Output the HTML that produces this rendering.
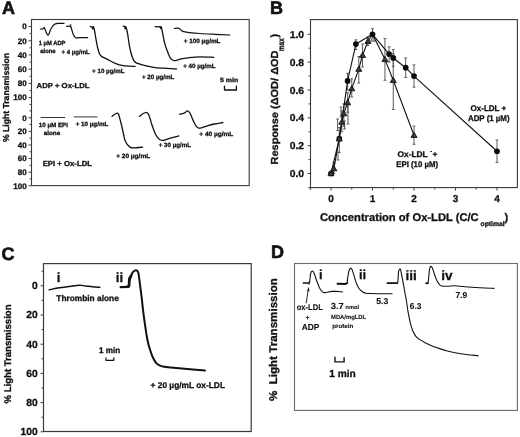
<!DOCTYPE html>
<html><head><meta charset="utf-8"><style>
html,body{margin:0;padding:0;background:#fff;}
body{width:520px;height:437px;overflow:hidden;}
svg{display:block;will-change:transform;}
text{stroke:#111;stroke-width:0.3px;text-rendering:geometricPrecision;}
svg{font-family:"Liberation Sans", sans-serif;}
</style></head><body>
<svg width="520" height="437" viewBox="0 0 520 437">
<rect width="520" height="437" fill="#fff"/>
<text x="2" y="13.85" font-size="18" font-weight="bold" text-anchor="start" fill="#111" style="stroke-width:0.6px">A</text>
<rect x="31.5" y="19.5" width="217.7" height="166.1" fill="none" stroke="#3a3a3a" stroke-width="1.1"/>
<line x1="28.5" y1="26.5" x2="31.5" y2="26.5" stroke="#333" stroke-width="0.9"/>
<text x="26.6" y="29.35" font-size="8" font-weight="bold" text-anchor="end" fill="#111">0</text>
<line x1="29.5" y1="33.61" x2="31.5" y2="33.61" stroke="#333" stroke-width="0.9"/>
<line x1="28.5" y1="40.72" x2="31.5" y2="40.72" stroke="#333" stroke-width="0.9"/>
<text x="26.6" y="43.57" font-size="8" font-weight="bold" text-anchor="end" fill="#111">20</text>
<line x1="29.5" y1="47.83" x2="31.5" y2="47.83" stroke="#333" stroke-width="0.9"/>
<line x1="28.5" y1="54.94" x2="31.5" y2="54.94" stroke="#333" stroke-width="0.9"/>
<text x="26.6" y="57.79" font-size="8" font-weight="bold" text-anchor="end" fill="#111">40</text>
<line x1="29.5" y1="62.05" x2="31.5" y2="62.05" stroke="#333" stroke-width="0.9"/>
<line x1="28.5" y1="69.16" x2="31.5" y2="69.16" stroke="#333" stroke-width="0.9"/>
<text x="26.6" y="72.01" font-size="8" font-weight="bold" text-anchor="end" fill="#111">60</text>
<line x1="29.5" y1="76.27" x2="31.5" y2="76.27" stroke="#333" stroke-width="0.9"/>
<line x1="28.5" y1="83.38" x2="31.5" y2="83.38" stroke="#333" stroke-width="0.9"/>
<text x="26.6" y="86.23" font-size="8" font-weight="bold" text-anchor="end" fill="#111">80</text>
<line x1="29.5" y1="90.49" x2="31.5" y2="90.49" stroke="#333" stroke-width="0.9"/>
<line x1="28.5" y1="97.6" x2="31.5" y2="97.6" stroke="#333" stroke-width="0.9"/>
<text x="26.6" y="100.45" font-size="8" font-weight="bold" text-anchor="end" fill="#111">100</text>
<line x1="29.5" y1="104.5" x2="31.5" y2="104.5" stroke="#333" stroke-width="0.9"/>
<line x1="29.5" y1="110.89" x2="31.5" y2="110.89" stroke="#333" stroke-width="0.9"/>
<line x1="28.5" y1="117.7" x2="31.5" y2="117.7" stroke="#333" stroke-width="0.9"/>
<text x="26.6" y="120.55" font-size="8" font-weight="bold" text-anchor="end" fill="#111">0</text>
<line x1="29.5" y1="124.51" x2="31.5" y2="124.51" stroke="#333" stroke-width="0.9"/>
<line x1="28.5" y1="131.32" x2="31.5" y2="131.32" stroke="#333" stroke-width="0.9"/>
<text x="26.6" y="134.17" font-size="8" font-weight="bold" text-anchor="end" fill="#111">20</text>
<line x1="29.5" y1="138.13" x2="31.5" y2="138.13" stroke="#333" stroke-width="0.9"/>
<line x1="28.5" y1="144.94" x2="31.5" y2="144.94" stroke="#333" stroke-width="0.9"/>
<text x="26.6" y="147.79" font-size="8" font-weight="bold" text-anchor="end" fill="#111">40</text>
<line x1="29.5" y1="151.75" x2="31.5" y2="151.75" stroke="#333" stroke-width="0.9"/>
<line x1="28.5" y1="158.56" x2="31.5" y2="158.56" stroke="#333" stroke-width="0.9"/>
<text x="26.6" y="161.41" font-size="8" font-weight="bold" text-anchor="end" fill="#111">60</text>
<line x1="29.5" y1="165.37" x2="31.5" y2="165.37" stroke="#333" stroke-width="0.9"/>
<line x1="28.5" y1="172.18" x2="31.5" y2="172.18" stroke="#333" stroke-width="0.9"/>
<text x="26.6" y="175.03" font-size="8" font-weight="bold" text-anchor="end" fill="#111">80</text>
<line x1="29.5" y1="178.99" x2="31.5" y2="178.99" stroke="#333" stroke-width="0.9"/>
<line x1="28.5" y1="185.8" x2="31.5" y2="185.8" stroke="#333" stroke-width="0.9"/>
<text x="26.6" y="188.65" font-size="8" font-weight="bold" text-anchor="end" fill="#111">100</text>
<text transform="translate(8.8 97.5) rotate(-90)" x="0" y="0" font-size="8.7" font-weight="bold" text-anchor="middle" fill="#111" textLength="89" lengthAdjust="spacingAndGlyphs">% Light Transmission</text>
<path d="M40.3 29 C40.67 29 41.97 29.13 42.5 29 C43.03 28.87 43.23 28.45 43.5 28.2 C43.77 27.95 43.82 27.23 44.1 27.5 C44.38 27.77 44.75 28.78 45.2 29.8 C45.65 30.82 46.37 32.7 46.8 33.6 C47.23 34.5 47.45 35.1 47.8 35.2 C48.15 35.3 48.45 35.1 48.9 34.2 C49.35 33.3 49.87 31.15 50.5 29.8 C51.13 28.45 51.88 27.08 52.7 26.1 C53.52 25.12 54.42 24.35 55.4 23.9 C56.38 23.45 57.17 23.48 58.6 23.4 C60.03 23.32 63.1 23.4 64 23.4" fill="none" stroke="#111" stroke-width="1.2" stroke-linejoin="round" stroke-linecap="round"/>
<path d="M66.7 26.4 C67.15 26.35 68.75 26.12 69.4 26.1 C70.05 26.08 70.25 25.85 70.6 26.3 C70.95 26.75 71.07 27.48 71.5 28.8 C71.93 30.12 72.65 32.87 73.2 34.2 C73.75 35.53 74.27 36.17 74.8 36.8 C75.33 37.43 75.68 37.85 76.4 38 C77.12 38.15 77.22 37.77 79.1 37.7 C80.98 37.63 86.27 37.62 87.7 37.6" fill="none" stroke="#111" stroke-width="1.2" stroke-linejoin="round" stroke-linecap="round"/>
<line x1="70.7" y1="23.9" x2="70.7" y2="27.2" stroke="#111" stroke-width="0.9"/>
<path d="M90.2 26.6 C90.48 26.65 91.47 26.5 91.9 26.9 C92.33 27.3 92.53 29.05 92.8 29 C93.07 28.95 93.2 26.27 93.5 26.6 C93.8 26.93 94.18 28.9 94.6 31 C95.02 33.1 95.5 36.45 96 39.2 C96.5 41.95 97.03 45.1 97.6 47.5 C98.17 49.9 98.75 52.12 99.4 53.6 C100.05 55.08 100.23 55.48 101.5 56.4 C102.77 57.32 104.72 57.95 107 59.1 C109.28 60.25 112.47 62.22 115.2 63.3 C117.93 64.38 120.08 65.08 123.4 65.6 C126.72 66.12 133.15 66.27 135.1 66.4" fill="none" stroke="#111" stroke-width="1.3" stroke-linejoin="round" stroke-linecap="round"/>
<path d="M123.2 26.2 C123.43 26.25 124.27 26.05 124.6 26.5 C124.93 26.95 124.98 28.83 125.2 28.9 C125.42 28.97 125.5 26.1 125.9 26.9 C126.3 27.7 127.05 30.73 127.6 33.7 C128.15 36.67 128.63 41.48 129.2 44.7 C129.77 47.92 130.35 50.6 131 53 C131.65 55.4 132.3 57.5 133.1 59.1 C133.9 60.7 134.43 61.68 135.8 62.6 C137.17 63.52 139.45 64.03 141.3 64.6 C143.15 65.17 144.83 65.53 146.9 66 C148.97 66.47 151.42 67.05 153.7 67.4 C155.98 67.75 158.3 67.95 160.6 68.1 C162.9 68.25 164.87 68.15 167.5 68.3 C170.13 68.45 174.92 68.88 176.4 69" fill="none" stroke="#111" stroke-width="1.3" stroke-linejoin="round" stroke-linecap="round"/>
<path d="M155.1 26.6 C155.55 26.65 157 26.9 157.8 26.9 C158.6 26.9 159.43 26.33 159.9 26.6 C160.37 26.87 160.37 28.45 160.6 28.5 C160.83 28.55 160.95 26.03 161.3 26.9 C161.65 27.77 162.13 30.97 162.7 33.7 C163.27 36.43 163.9 40.32 164.7 43.3 C165.5 46.28 166.58 49.18 167.5 51.6 C168.42 54.02 169.18 56.32 170.2 57.8 C171.22 59.28 172.45 60.1 173.6 60.5 C174.75 60.9 175.83 60.47 177.1 60.2 C178.37 59.93 179.37 59.3 181.2 58.9 C183.03 58.5 184.97 58.15 188.1 57.8 C191.23 57.45 195.72 56.88 200 56.8 C204.28 56.72 211.5 57.22 213.8 57.3" fill="none" stroke="#111" stroke-width="1.3" stroke-linejoin="round" stroke-linecap="round"/>
<path d="M174.3 28.5 C174.98 28.45 177.25 27.9 178.4 28.2 C179.55 28.5 180.28 29.72 181.2 30.3 C182.12 30.88 182.53 31.32 183.9 31.7 C185.27 32.08 186.72 32.3 189.4 32.6 C192.08 32.9 195.73 33.22 200 33.5 C204.27 33.78 210 34.05 215 34.3 C220 34.55 227.5 34.88 230 35" fill="none" stroke="#111" stroke-width="1.2" stroke-linejoin="round" stroke-linecap="round"/>
<text x="38.7" y="44.6" font-size="6.1" font-weight="bold" text-anchor="start" fill="#111" textLength="26.8" lengthAdjust="spacingAndGlyphs">1 µM ADP</text>
<text x="40.3" y="52.5" font-size="6.1" font-weight="bold" text-anchor="start" fill="#111" textLength="15.3" lengthAdjust="spacingAndGlyphs">alone</text>
<text x="61.6" y="54.4" font-size="6.1" font-weight="bold" text-anchor="start" fill="#111" textLength="28.2" lengthAdjust="spacingAndGlyphs">+ 4 µg/mL</text>
<text x="92.1" y="72.9" font-size="6.1" font-weight="bold" text-anchor="start" fill="#111" textLength="32.4" lengthAdjust="spacingAndGlyphs">+ 10 µg/mL</text>
<text x="142" y="79" font-size="6.1" font-weight="bold" text-anchor="start" fill="#111" textLength="32.3" lengthAdjust="spacingAndGlyphs">+ 20 µg/mL</text>
<text x="183.3" y="67.7" font-size="6.1" font-weight="bold" text-anchor="start" fill="#111" textLength="32.2" lengthAdjust="spacingAndGlyphs">+ 40 µg/mL</text>
<text x="183.7" y="43.1" font-size="6.1" font-weight="bold" text-anchor="start" fill="#111" textLength="36.8" lengthAdjust="spacingAndGlyphs">+ 100 µg/mL</text>
<text x="220" y="81.6" font-size="6.1" font-weight="bold" text-anchor="start" fill="#111" textLength="18.3" lengthAdjust="spacingAndGlyphs">5 min</text>
<path d="M224.5 86.2 L224.5 90.0 L236.4 90.0 L236.4 86.2" fill="none" stroke="#111" stroke-width="1.3" stroke-linejoin="round" stroke-linecap="round"/>
<text x="36.6" y="87.9" font-size="7.2" font-weight="bold" text-anchor="start" fill="#111" textLength="53" lengthAdjust="spacingAndGlyphs">ADP + Ox-LDL</text>
<line x1="40.6" y1="117.5" x2="65.2" y2="117.5" stroke="#333" stroke-width="1"/>
<line x1="73.7" y1="116.9" x2="97.5" y2="116.9" stroke="#333" stroke-width="1"/>
<path d="M112 116.4 C112.42 116.08 113.63 115.03 114.5 114.5 C115.37 113.97 116.53 113.28 117.2 113.2 C117.87 113.12 118.12 113.28 118.5 114 C118.88 114.72 119.08 116 119.5 117.5 C119.92 119 120.52 121.08 121 123 C121.48 124.92 121.97 127.08 122.4 129 C122.83 130.92 123.22 132.75 123.6 134.5 C123.98 136.25 124.13 137.9 124.7 139.5 C125.27 141.1 126.03 142.8 127 144.1 C127.97 145.4 129.25 146.68 130.5 147.3 C131.75 147.92 132.48 147.83 134.5 147.8 C136.52 147.77 141.25 147.22 142.6 147.1" fill="none" stroke="#111" stroke-width="1.3" stroke-linejoin="round" stroke-linecap="round"/>
<path d="M139.5 116.4 C140 116 141.38 114.68 142.5 114 C143.62 113.32 145.22 112.28 146.2 112.3 C147.18 112.32 147.73 112.98 148.4 114.1 C149.07 115.22 149.63 117.27 150.2 119 C150.77 120.73 150.95 122.05 151.8 124.5 C152.65 126.95 154.13 131.3 155.3 133.7 C156.47 136.1 157.65 137.78 158.8 138.9 C159.95 140.02 161 140.28 162.2 140.4 C163.4 140.52 164.53 140.03 166 139.6 C167.47 139.17 168.85 138.42 171 137.8 C173.15 137.18 177.58 136.22 178.9 135.9" fill="none" stroke="#111" stroke-width="1.3" stroke-linejoin="round" stroke-linecap="round"/>
<path d="M179.6 114.2 C180.37 114.02 182.88 113.65 184.2 113.1 C185.52 112.55 186.53 110.9 187.5 110.9 C188.47 110.9 189 111.38 190 113.1 C191 114.82 192.45 119 193.5 121.2 C194.55 123.4 195.43 125.15 196.3 126.3 C197.17 127.45 197.83 127.85 198.7 128.1 C199.57 128.35 200.07 128.18 201.5 127.8 C202.93 127.42 205.18 126.43 207.3 125.8 C209.42 125.17 211.6 124.55 214.2 124 C216.8 123.45 221.45 122.75 222.9 122.5" fill="none" stroke="#111" stroke-width="1.3" stroke-linejoin="round" stroke-linecap="round"/>
<text x="38.8" y="126.5" font-size="6.1" font-weight="bold" text-anchor="start" fill="#111" textLength="29.2" lengthAdjust="spacingAndGlyphs">10 µM EPI</text>
<text x="43.7" y="134.8" font-size="6.1" font-weight="bold" text-anchor="start" fill="#111" textLength="16.5" lengthAdjust="spacingAndGlyphs">alone</text>
<text x="75.7" y="125.6" font-size="6.1" font-weight="bold" text-anchor="start" fill="#111" textLength="32.6" lengthAdjust="spacingAndGlyphs">+ 10 µg/mL</text>
<text x="42.7" y="166.3" font-size="7.3" font-weight="bold" text-anchor="start" fill="#111" textLength="49.3" lengthAdjust="spacingAndGlyphs">EPI + Ox-LDL</text>
<text x="116.2" y="158.2" font-size="6.1" font-weight="bold" text-anchor="start" fill="#111" textLength="34" lengthAdjust="spacingAndGlyphs">+ 20 µg/mL</text>
<text x="158.8" y="147.4" font-size="6.1" font-weight="bold" text-anchor="start" fill="#111" textLength="32.1" lengthAdjust="spacingAndGlyphs">+ 30 µg/mL</text>
<text x="199.3" y="136.2" font-size="6.1" font-weight="bold" text-anchor="start" fill="#111" textLength="34" lengthAdjust="spacingAndGlyphs">+ 40 µg/mL</text>
<text x="270" y="13.85" font-size="18" font-weight="bold" text-anchor="start" fill="#111" style="stroke-width:0.6px">B</text>
<rect x="310.5" y="19.6" width="206.9" height="168" fill="none" stroke="#3a3a3a" stroke-width="1.1"/>
<line x1="308.4" y1="187.6" x2="310.5" y2="187.6" stroke="#3a3a3a" stroke-width="1.1"/>
<line x1="310.5" y1="187.6" x2="310.5" y2="189.8" stroke="#3a3a3a" stroke-width="1.1"/>
<line x1="307.5" y1="173.5" x2="310.5" y2="173.5" stroke="#333" stroke-width="0.9"/>
<text x="304.1" y="177.1" font-size="10" font-weight="bold" text-anchor="end" fill="#111" textLength="14.4" lengthAdjust="spacingAndGlyphs">0.0</text>
<line x1="308.5" y1="159.58" x2="310.5" y2="159.58" stroke="#333" stroke-width="0.9"/>
<line x1="307.5" y1="145.66" x2="310.5" y2="145.66" stroke="#333" stroke-width="0.9"/>
<text x="304.1" y="149.26" font-size="10" font-weight="bold" text-anchor="end" fill="#111" textLength="14.4" lengthAdjust="spacingAndGlyphs">0.2</text>
<line x1="308.5" y1="131.74" x2="310.5" y2="131.74" stroke="#333" stroke-width="0.9"/>
<line x1="307.5" y1="117.82" x2="310.5" y2="117.82" stroke="#333" stroke-width="0.9"/>
<text x="304.1" y="121.42" font-size="10" font-weight="bold" text-anchor="end" fill="#111" textLength="14.4" lengthAdjust="spacingAndGlyphs">0.4</text>
<line x1="308.5" y1="103.9" x2="310.5" y2="103.9" stroke="#333" stroke-width="0.9"/>
<line x1="307.5" y1="89.98" x2="310.5" y2="89.98" stroke="#333" stroke-width="0.9"/>
<text x="304.1" y="93.58" font-size="10" font-weight="bold" text-anchor="end" fill="#111" textLength="14.4" lengthAdjust="spacingAndGlyphs">0.6</text>
<line x1="308.5" y1="76.06" x2="310.5" y2="76.06" stroke="#333" stroke-width="0.9"/>
<line x1="307.5" y1="62.14" x2="310.5" y2="62.14" stroke="#333" stroke-width="0.9"/>
<text x="304.1" y="65.74" font-size="10" font-weight="bold" text-anchor="end" fill="#111" textLength="14.4" lengthAdjust="spacingAndGlyphs">0.8</text>
<line x1="308.5" y1="48.22" x2="310.5" y2="48.22" stroke="#333" stroke-width="0.9"/>
<line x1="307.5" y1="34.3" x2="310.5" y2="34.3" stroke="#333" stroke-width="0.9"/>
<text x="304.1" y="37.9" font-size="10" font-weight="bold" text-anchor="end" fill="#111" textLength="14.4" lengthAdjust="spacingAndGlyphs">1.0</text>
<line x1="331" y1="187.6" x2="331" y2="190.6" stroke="#333" stroke-width="0.9"/>
<text x="331" y="202.1" font-size="10" font-weight="bold" text-anchor="middle" fill="#111">0</text>
<line x1="351.75" y1="187.6" x2="351.75" y2="189.6" stroke="#333" stroke-width="0.9"/>
<line x1="372.5" y1="187.6" x2="372.5" y2="190.6" stroke="#333" stroke-width="0.9"/>
<text x="372.5" y="202.1" font-size="10" font-weight="bold" text-anchor="middle" fill="#111">1</text>
<line x1="393.25" y1="187.6" x2="393.25" y2="189.6" stroke="#333" stroke-width="0.9"/>
<line x1="414" y1="187.6" x2="414" y2="190.6" stroke="#333" stroke-width="0.9"/>
<text x="414" y="202.1" font-size="10" font-weight="bold" text-anchor="middle" fill="#111">2</text>
<line x1="434.75" y1="187.6" x2="434.75" y2="189.6" stroke="#333" stroke-width="0.9"/>
<line x1="455.5" y1="187.6" x2="455.5" y2="190.6" stroke="#333" stroke-width="0.9"/>
<text x="455.5" y="202.1" font-size="10" font-weight="bold" text-anchor="middle" fill="#111">3</text>
<line x1="476.25" y1="187.6" x2="476.25" y2="189.6" stroke="#333" stroke-width="0.9"/>
<line x1="497" y1="187.6" x2="497" y2="190.6" stroke="#333" stroke-width="0.9"/>
<text x="497" y="202.1" font-size="10" font-weight="bold" text-anchor="middle" fill="#111">4</text>
<text x="319.9" y="220.8" font-size="11.1" font-weight="bold" text-anchor="start" fill="#111" textLength="158.8" lengthAdjust="spacingAndGlyphs">Concentration of Ox-LDL (C/C</text>
<text x="480.6" y="226" font-size="6.8" font-weight="bold" text-anchor="start" fill="#111" textLength="24" lengthAdjust="spacingAndGlyphs">optimal</text>
<text x="504.4" y="220.8" font-size="11.1" font-weight="bold" text-anchor="start" fill="#111">)</text>
<text transform="translate(277.6 164.5) rotate(-90)" font-size="10.2" font-weight="bold" fill="#111" textLength="114.0" lengthAdjust="spacingAndGlyphs">Response (ΔOD/ ΔOD</text>
<text transform="translate(284.2 51.2) rotate(-90)" font-size="8.4" font-weight="bold" fill="#111" textLength="13" lengthAdjust="spacingAndGlyphs">max</text>
<text transform="translate(278.0 37.6) rotate(-90)" font-size="10.6" font-weight="bold" fill="#111">)</text>
<line x1="337.6" y1="119" x2="337.6" y2="130.5" stroke="#5a5a5a" stroke-width="1"/>
<line x1="336.2" y1="119" x2="339" y2="119" stroke="#5a5a5a" stroke-width="1"/>
<line x1="336.2" y1="130.5" x2="339" y2="130.5" stroke="#5a5a5a" stroke-width="1"/>
<line x1="341" y1="107" x2="341" y2="117" stroke="#5a5a5a" stroke-width="1"/>
<line x1="339.6" y1="107" x2="342.4" y2="107" stroke="#5a5a5a" stroke-width="1"/>
<line x1="339.6" y1="117" x2="342.4" y2="117" stroke="#5a5a5a" stroke-width="1"/>
<line x1="344.5" y1="121" x2="344.5" y2="129" stroke="#5a5a5a" stroke-width="1"/>
<line x1="343.1" y1="121" x2="345.9" y2="121" stroke="#5a5a5a" stroke-width="1"/>
<line x1="343.1" y1="129" x2="345.9" y2="129" stroke="#5a5a5a" stroke-width="1"/>
<line x1="348" y1="106" x2="348" y2="124" stroke="#5a5a5a" stroke-width="1"/>
<line x1="346.6" y1="106" x2="349.4" y2="106" stroke="#5a5a5a" stroke-width="1"/>
<line x1="346.6" y1="124" x2="349.4" y2="124" stroke="#5a5a5a" stroke-width="1"/>
<line x1="338" y1="152" x2="338" y2="160" stroke="#5a5a5a" stroke-width="1"/>
<line x1="336.6" y1="152" x2="339.4" y2="152" stroke="#5a5a5a" stroke-width="1"/>
<line x1="336.6" y1="160" x2="339.4" y2="160" stroke="#5a5a5a" stroke-width="1"/>
<line x1="333.9" y1="173.5" x2="333.9" y2="162.36" stroke="#5a5a5a" stroke-width="1"/>
<line x1="332.5" y1="173.5" x2="335.3" y2="173.5" stroke="#5a5a5a" stroke-width="1"/>
<line x1="332.5" y1="162.36" x2="335.3" y2="162.36" stroke="#5a5a5a" stroke-width="1"/>
<line x1="339.3" y1="152.62" x2="339.3" y2="127.56" stroke="#5a5a5a" stroke-width="1"/>
<line x1="337.9" y1="152.62" x2="340.7" y2="152.62" stroke="#5a5a5a" stroke-width="1"/>
<line x1="337.9" y1="127.56" x2="340.7" y2="127.56" stroke="#5a5a5a" stroke-width="1"/>
<line x1="341.79" y1="131.74" x2="341.79" y2="110.86" stroke="#5a5a5a" stroke-width="1"/>
<line x1="340.39" y1="131.74" x2="343.19" y2="131.74" stroke="#5a5a5a" stroke-width="1"/>
<line x1="340.39" y1="110.86" x2="343.19" y2="110.86" stroke="#5a5a5a" stroke-width="1"/>
<line x1="343.87" y1="126.17" x2="343.87" y2="103.9" stroke="#5a5a5a" stroke-width="1"/>
<line x1="342.47" y1="126.17" x2="345.26" y2="126.17" stroke="#5a5a5a" stroke-width="1"/>
<line x1="342.47" y1="103.9" x2="345.26" y2="103.9" stroke="#5a5a5a" stroke-width="1"/>
<line x1="347.6" y1="112.25" x2="347.6" y2="92.76" stroke="#5a5a5a" stroke-width="1"/>
<line x1="346.2" y1="112.25" x2="349" y2="112.25" stroke="#5a5a5a" stroke-width="1"/>
<line x1="346.2" y1="92.76" x2="349" y2="92.76" stroke="#5a5a5a" stroke-width="1"/>
<line x1="351.75" y1="96.94" x2="351.75" y2="78.84" stroke="#5a5a5a" stroke-width="1"/>
<line x1="350.35" y1="96.94" x2="353.15" y2="96.94" stroke="#5a5a5a" stroke-width="1"/>
<line x1="350.35" y1="78.84" x2="353.15" y2="78.84" stroke="#5a5a5a" stroke-width="1"/>
<line x1="358.81" y1="83.02" x2="358.81" y2="56.57" stroke="#5a5a5a" stroke-width="1"/>
<line x1="357.41" y1="83.02" x2="360.2" y2="83.02" stroke="#5a5a5a" stroke-width="1"/>
<line x1="357.41" y1="56.57" x2="360.2" y2="56.57" stroke="#5a5a5a" stroke-width="1"/>
<line x1="362.54" y1="67.01" x2="362.54" y2="44.18" stroke="#5a5a5a" stroke-width="1"/>
<line x1="361.14" y1="67.01" x2="363.94" y2="67.01" stroke="#5a5a5a" stroke-width="1"/>
<line x1="361.14" y1="44.18" x2="363.94" y2="44.18" stroke="#5a5a5a" stroke-width="1"/>
<line x1="367.94" y1="45.58" x2="367.94" y2="37.08" stroke="#5a5a5a" stroke-width="1"/>
<line x1="366.54" y1="45.58" x2="369.33" y2="45.58" stroke="#5a5a5a" stroke-width="1"/>
<line x1="366.54" y1="37.08" x2="369.33" y2="37.08" stroke="#5a5a5a" stroke-width="1"/>
<line x1="384.95" y1="80.24" x2="384.95" y2="38.48" stroke="#5a5a5a" stroke-width="1"/>
<line x1="383.55" y1="80.24" x2="386.35" y2="80.24" stroke="#5a5a5a" stroke-width="1"/>
<line x1="383.55" y1="38.48" x2="386.35" y2="38.48" stroke="#5a5a5a" stroke-width="1"/>
<line x1="393.25" y1="109.47" x2="393.25" y2="53.79" stroke="#5a5a5a" stroke-width="1"/>
<line x1="391.85" y1="109.47" x2="394.65" y2="109.47" stroke="#5a5a5a" stroke-width="1"/>
<line x1="391.85" y1="53.79" x2="394.65" y2="53.79" stroke="#5a5a5a" stroke-width="1"/>
<line x1="414" y1="144.27" x2="414" y2="126.17" stroke="#5a5a5a" stroke-width="1"/>
<line x1="412.6" y1="144.27" x2="415.4" y2="144.27" stroke="#5a5a5a" stroke-width="1"/>
<line x1="412.6" y1="126.17" x2="415.4" y2="126.17" stroke="#5a5a5a" stroke-width="1"/>
<line x1="347.6" y1="89.98" x2="347.6" y2="73.28" stroke="#5a5a5a" stroke-width="1"/>
<line x1="346.2" y1="89.98" x2="349" y2="89.98" stroke="#5a5a5a" stroke-width="1"/>
<line x1="346.2" y1="73.28" x2="349" y2="73.28" stroke="#5a5a5a" stroke-width="1"/>
<line x1="355.9" y1="49.61" x2="355.9" y2="39.87" stroke="#5a5a5a" stroke-width="1"/>
<line x1="354.5" y1="49.61" x2="357.3" y2="49.61" stroke="#5a5a5a" stroke-width="1"/>
<line x1="354.5" y1="39.87" x2="357.3" y2="39.87" stroke="#5a5a5a" stroke-width="1"/>
<line x1="372.5" y1="39.87" x2="372.5" y2="28.73" stroke="#5a5a5a" stroke-width="1"/>
<line x1="371.1" y1="39.87" x2="373.9" y2="39.87" stroke="#5a5a5a" stroke-width="1"/>
<line x1="371.1" y1="28.73" x2="373.9" y2="28.73" stroke="#5a5a5a" stroke-width="1"/>
<line x1="389.1" y1="62.14" x2="389.1" y2="46.83" stroke="#5a5a5a" stroke-width="1"/>
<line x1="387.7" y1="62.14" x2="390.5" y2="62.14" stroke="#5a5a5a" stroke-width="1"/>
<line x1="387.7" y1="46.83" x2="390.5" y2="46.83" stroke="#5a5a5a" stroke-width="1"/>
<line x1="393.25" y1="66.32" x2="393.25" y2="49.61" stroke="#5a5a5a" stroke-width="1"/>
<line x1="391.85" y1="66.32" x2="394.65" y2="66.32" stroke="#5a5a5a" stroke-width="1"/>
<line x1="391.85" y1="49.61" x2="394.65" y2="49.61" stroke="#5a5a5a" stroke-width="1"/>
<line x1="405.7" y1="77.45" x2="405.7" y2="57.96" stroke="#5a5a5a" stroke-width="1"/>
<line x1="404.3" y1="77.45" x2="407.1" y2="77.45" stroke="#5a5a5a" stroke-width="1"/>
<line x1="404.3" y1="57.96" x2="407.1" y2="57.96" stroke="#5a5a5a" stroke-width="1"/>
<line x1="414" y1="87.2" x2="414" y2="64.92" stroke="#5a5a5a" stroke-width="1"/>
<line x1="412.6" y1="87.2" x2="415.4" y2="87.2" stroke="#5a5a5a" stroke-width="1"/>
<line x1="412.6" y1="64.92" x2="415.4" y2="64.92" stroke="#5a5a5a" stroke-width="1"/>
<line x1="497" y1="162.36" x2="497" y2="140.09" stroke="#5a5a5a" stroke-width="1"/>
<line x1="495.6" y1="162.36" x2="498.4" y2="162.36" stroke="#5a5a5a" stroke-width="1"/>
<line x1="495.6" y1="140.09" x2="498.4" y2="140.09" stroke="#5a5a5a" stroke-width="1"/>
<path d="M331 173.5 L339.3 138.7 L347.6 80.93 L355.9 44.04 L372.5 34.3 L389.1 54.07 L393.25 57.96 L405.7 67.71 L414 76.06 L497 151.23" fill="none" stroke="#111" stroke-width="1.1" stroke-linejoin="round" stroke-linecap="round"/>
<path d="M331 173.5 L333.9 168.63 L339.3 138.7 L341.79 122 L343.87 113.64 L347.6 102.51 L351.75 88.59 L358.81 69.1 L362.54 55.18 L367.94 41.26 L372.5 34.3 L384.95 59.36 L393.25 80.24 L414 135.22" fill="none" stroke="#111" stroke-width="1.1" stroke-linejoin="round" stroke-linecap="round"/>
<path d="M372.8 36.6 L370.4 41.2 L375.2 41.2 Z" fill="#bbb" stroke="#333" stroke-width="0.7"/>
<circle cx="331" cy="173.5" r="2.85" fill="#0a0a0a"/>
<circle cx="339.3" cy="138.7" r="2.85" fill="#0a0a0a"/>
<circle cx="347.6" cy="80.93" r="2.85" fill="#0a0a0a"/>
<circle cx="355.9" cy="44.04" r="2.85" fill="#0a0a0a"/>
<circle cx="372.5" cy="34.3" r="2.85" fill="#0a0a0a"/>
<circle cx="389.1" cy="54.07" r="2.85" fill="#0a0a0a"/>
<circle cx="393.25" cy="57.96" r="2.85" fill="#0a0a0a"/>
<circle cx="405.7" cy="67.71" r="2.85" fill="#0a0a0a"/>
<circle cx="414" cy="76.06" r="2.85" fill="#0a0a0a"/>
<circle cx="497" cy="151.23" r="2.85" fill="#0a0a0a"/>
<path d="M331 170.5 L328 175.7 L334 175.7 Z" fill="#3c3c3c" stroke="#111" stroke-width="0.9" stroke-linejoin="round"/>
<path d="M333.9 165.63 L330.9 170.83 L336.9 170.83 Z" fill="#3c3c3c" stroke="#111" stroke-width="0.9" stroke-linejoin="round"/>
<path d="M339.3 135.7 L336.3 140.9 L342.3 140.9 Z" fill="#3c3c3c" stroke="#111" stroke-width="0.9" stroke-linejoin="round"/>
<path d="M341.79 119 L338.79 124.2 L344.79 124.2 Z" fill="#3c3c3c" stroke="#111" stroke-width="0.9" stroke-linejoin="round"/>
<path d="M343.87 110.64 L340.87 115.84 L346.87 115.84 Z" fill="#3c3c3c" stroke="#111" stroke-width="0.9" stroke-linejoin="round"/>
<path d="M347.6 99.51 L344.6 104.71 L350.6 104.71 Z" fill="#3c3c3c" stroke="#111" stroke-width="0.9" stroke-linejoin="round"/>
<path d="M351.75 85.59 L348.75 90.79 L354.75 90.79 Z" fill="#3c3c3c" stroke="#111" stroke-width="0.9" stroke-linejoin="round"/>
<path d="M358.81 66.1 L355.81 71.3 L361.81 71.3 Z" fill="#3c3c3c" stroke="#111" stroke-width="0.9" stroke-linejoin="round"/>
<path d="M362.54 52.18 L359.54 57.38 L365.54 57.38 Z" fill="#3c3c3c" stroke="#111" stroke-width="0.9" stroke-linejoin="round"/>
<path d="M367.94 38.26 L364.94 43.46 L370.94 43.46 Z" fill="#3c3c3c" stroke="#111" stroke-width="0.9" stroke-linejoin="round"/>
<path d="M384.95 56.36 L381.95 61.56 L387.95 61.56 Z" fill="#3c3c3c" stroke="#111" stroke-width="0.9" stroke-linejoin="round"/>
<path d="M393.25 77.24 L390.25 82.44 L396.25 82.44 Z" fill="#3c3c3c" stroke="#111" stroke-width="0.9" stroke-linejoin="round"/>
<path d="M414 132.22 L411 137.42 L417 137.42 Z" fill="#3c3c3c" stroke="#111" stroke-width="0.9" stroke-linejoin="round"/>
<text x="470.5" y="110.5" font-size="8.2" font-weight="bold" text-anchor="start" fill="#111" textLength="35.8" lengthAdjust="spacingAndGlyphs">Ox-LDL +</text>
<text x="468" y="120.75" font-size="8.2" font-weight="bold" text-anchor="start" fill="#111" textLength="41.5" lengthAdjust="spacingAndGlyphs">ADP (1 µM)</text>
<text x="397.5" y="157" font-size="8.2" font-weight="bold" text-anchor="start" fill="#111" textLength="40" lengthAdjust="spacingAndGlyphs">Ox-LDL ˙+</text>
<text x="396.3" y="166.75" font-size="8.2" font-weight="bold" text-anchor="start" fill="#111" textLength="41.7" lengthAdjust="spacingAndGlyphs">EPI (10 µM)</text>
<text x="1.6" y="260" font-size="18" font-weight="bold" text-anchor="start" fill="#111" style="stroke-width:0.6px">C</text>
<rect x="43.5" y="263.6" width="207.7" height="167.9" fill="none" stroke="#3a3a3a" stroke-width="1.2"/>
<line x1="41.5" y1="271.2" x2="43.5" y2="271.2" stroke="#333" stroke-width="0.9"/>
<line x1="40.5" y1="285.8" x2="43.5" y2="285.8" stroke="#333" stroke-width="0.9"/>
<text x="37.8" y="289.2" font-size="10.3" font-weight="bold" text-anchor="end" fill="#111">0</text>
<line x1="41.5" y1="300.4" x2="43.5" y2="300.4" stroke="#333" stroke-width="0.9"/>
<line x1="40.5" y1="315" x2="43.5" y2="315" stroke="#333" stroke-width="0.9"/>
<text x="37.8" y="318.4" font-size="10.3" font-weight="bold" text-anchor="end" fill="#111">20</text>
<line x1="41.5" y1="329.6" x2="43.5" y2="329.6" stroke="#333" stroke-width="0.9"/>
<line x1="40.5" y1="344.2" x2="43.5" y2="344.2" stroke="#333" stroke-width="0.9"/>
<text x="37.8" y="347.6" font-size="10.3" font-weight="bold" text-anchor="end" fill="#111">40</text>
<line x1="41.5" y1="358.8" x2="43.5" y2="358.8" stroke="#333" stroke-width="0.9"/>
<line x1="40.5" y1="373.4" x2="43.5" y2="373.4" stroke="#333" stroke-width="0.9"/>
<text x="37.8" y="376.8" font-size="10.3" font-weight="bold" text-anchor="end" fill="#111">60</text>
<line x1="41.5" y1="388" x2="43.5" y2="388" stroke="#333" stroke-width="0.9"/>
<line x1="40.5" y1="402.6" x2="43.5" y2="402.6" stroke="#333" stroke-width="0.9"/>
<text x="37.8" y="406" font-size="10.3" font-weight="bold" text-anchor="end" fill="#111">80</text>
<line x1="41.5" y1="417.2" x2="43.5" y2="417.2" stroke="#333" stroke-width="0.9"/>
<line x1="40.5" y1="431.8" x2="43.5" y2="431.8" stroke="#333" stroke-width="0.9"/>
<text x="37.8" y="435.2" font-size="10.3" font-weight="bold" text-anchor="end" fill="#111">100</text>
<text transform="translate(11 354) rotate(-90)" x="0" y="0" font-size="9.6" font-weight="bold" text-anchor="middle" fill="#111" textLength="99" lengthAdjust="spacingAndGlyphs">% Light Transmission</text>
<text x="56.7" y="281.5" font-size="13.3" font-weight="bold" text-anchor="start" fill="#111">i</text>
<text x="115.8" y="281.6" font-size="13.3" font-weight="bold" text-anchor="start" fill="#111">ii</text>
<path d="M49.3 289.8 C50.98 289.47 55.78 288.4 59.4 287.8 C63.02 287.2 67.63 286.62 71 286.2 C74.37 285.78 77.2 285.35 79.6 285.3 C82 285.25 83.23 285.65 85.4 285.9 C87.57 286.15 90.2 286.57 92.6 286.8 C95 287.03 98.6 287.22 99.8 287.3" fill="none" stroke="#111" stroke-width="1.5" stroke-linejoin="round" stroke-linecap="round"/>
<path d="M120.7 287 L126.5 286.9 L127.3 286.2 L128.6 286.6 L128.9 279 L129.3 278.5 L129.5 281 L129.9 276.5 L130.4 279 L130.9 275.4 L131.3 277 L131.6 274.4" fill="none" stroke="#111" stroke-width="1.8" stroke-linejoin="round" stroke-linecap="round"/>
<path d="M120.7 287.2 L128.6 286.9" fill="none" stroke="#111" stroke-width="2.2" stroke-linejoin="round" stroke-linecap="round"/>
<path d="M129.2 286 L129.6 278" fill="none" stroke="#111" stroke-width="2.4" stroke-linejoin="round" stroke-linecap="round"/>
<path d="M131.6 274.4 C131.83 274 132.25 272.68 133 272 C133.75 271.32 135.23 270.23 136.1 270.3 C136.97 270.37 137.63 270.68 138.2 272.4 C138.77 274.12 138.93 276.48 139.5 280.6 C140.07 284.72 140.88 291.17 141.6 297.1 C142.32 303.03 142.85 309.18 143.8 316.2 C144.75 323.22 146.22 333.48 147.3 339.2 C148.38 344.92 149.35 347.42 150.3 350.5 C151.25 353.58 151.97 355.57 153 357.7 C154.03 359.83 155.33 361.98 156.5 363.3 C157.67 364.62 158.65 365.02 160 365.6 C161.35 366.18 161.9 366.4 164.6 366.8 C167.3 367.2 171.97 367.6 176.2 368 C180.43 368.4 185.2 368.8 190 369.2 C194.8 369.6 202.5 370.2 205 370.4" fill="none" stroke="#111" stroke-width="2" stroke-linejoin="round" stroke-linecap="round"/>
<text x="56.3" y="300.5" font-size="8.3" font-weight="bold" text-anchor="start" fill="#111" textLength="62.5" lengthAdjust="spacingAndGlyphs">Thrombin alone</text>
<text x="99" y="353.2" font-size="8.2" font-weight="bold" text-anchor="start" fill="#111" textLength="21.2" lengthAdjust="spacingAndGlyphs">1 min</text>
<path d="M106.0 357.9 L106.0 360.3 L113.8 360.3 L113.8 357.9" fill="none" stroke="#111" stroke-width="1.2" stroke-linejoin="round" stroke-linecap="round"/>
<text x="150.6" y="387.7" font-size="8.34" font-weight="bold" text-anchor="start" fill="#111" textLength="74.4" lengthAdjust="spacingAndGlyphs">+ 20 µg/mL ox-LDL</text>
<text x="271" y="257.6" font-size="18" font-weight="bold" text-anchor="start" fill="#111" style="stroke-width:0.6px">D</text>
<rect x="294.5" y="263.5" width="222.9" height="146.9" fill="none" stroke="#6a6a6a" stroke-width="1.1"/>
<text transform="translate(277.4 339.6) rotate(-90)" x="0" y="0" font-size="11.2" font-weight="bold" text-anchor="middle" fill="#111" textLength="123" lengthAdjust="spacingAndGlyphs">%  Light Transmission</text>
<path d="M303.3 283 L308.4 283" fill="none" stroke="#111" stroke-width="1.6" stroke-linejoin="round" stroke-linecap="round"/>
<path d="M309.6 283 C309.68 282.08 309.9 279.17 310.1 277.5 C310.3 275.83 310.5 274.03 310.8 273 C311.1 271.97 311.5 271.53 311.9 271.3 C312.3 271.07 312.8 271.18 313.2 271.6 C313.6 272.02 313.95 272.98 314.3 273.8 C314.65 274.62 314.82 275.08 315.3 276.5 C315.78 277.92 316.4 280.22 317.2 282.3 C318 284.38 319.27 287.45 320.1 289 C320.93 290.55 321.55 291 322.2 291.6 C322.85 292.2 323.23 292.48 324 292.6 C324.77 292.72 325.52 292.5 326.8 292.3 C328.08 292.1 330.08 291.55 331.7 291.4 C333.32 291.25 334.75 291.32 336.5 291.4 C338.25 291.48 341.25 291.82 342.2 291.9" fill="none" stroke="#111" stroke-width="1.1" stroke-linejoin="round" stroke-linecap="round"/>
<line x1="309.1" y1="281.4" x2="309.1" y2="284.8" stroke="#111" stroke-width="0.9"/>
<line x1="306.2" y1="303.2" x2="308.2" y2="290" stroke="#111" stroke-width="0.9"/>
<path d="M308.7 286.8 L307.2 291.0 L309.5 291.3 Z" fill="#111"/>
<path d="M337.5 283.8 L345.1 284 L347.2 283.2" fill="none" stroke="#111" stroke-width="1.9" stroke-linejoin="round" stroke-linecap="round"/>
<path d="M347.2 282.8 C347.3 281.87 347.5 279.17 347.8 277.2 C348.1 275.23 348.58 272.5 349 271 C349.42 269.5 349.8 268.43 350.3 268.2 C350.8 267.97 351.37 268.33 352 269.6 C352.63 270.87 353.4 273.6 354.1 275.8 C354.8 278 355.4 280.72 356.2 282.8 C357 284.88 357.87 286.8 358.9 288.3 C359.93 289.8 361.25 290.98 362.4 291.8 C363.55 292.62 364.2 292.92 365.8 293.2 C367.4 293.48 369.3 293.42 372 293.5 C374.7 293.58 378.65 293.67 382 293.7 C385.35 293.73 390.42 293.7 392.1 293.7" fill="none" stroke="#111" stroke-width="1.1" stroke-linejoin="round" stroke-linecap="round"/>
<path d="M387.3 283.1 L397.3 283.1" fill="none" stroke="#111" stroke-width="1.6" stroke-linejoin="round" stroke-linecap="round"/>
<path d="M397.3 283.1 C397.4 282.85 397.7 283.38 397.9 281.6 C398.1 279.82 398.18 274.52 398.5 272.4 C398.82 270.28 399.42 269.18 399.8 268.9 C400.18 268.62 400.35 268.97 400.8 270.7 C401.25 272.43 401.93 276.33 402.5 279.3 C403.07 282.27 403.72 285.8 404.2 288.5 C404.68 291.2 405.05 293.58 405.4 295.5 C405.75 297.42 405.87 297.35 406.3 300 C406.73 302.65 407.33 307.58 408 311.4 C408.67 315.22 409.53 319.75 410.3 322.9 C411.07 326.05 411.83 328.3 412.6 330.3 C413.37 332.3 414.15 333.67 414.9 334.9 C415.65 336.13 416.35 336.95 417.1 337.7 C417.85 338.45 418.07 338.57 419.4 339.4 C420.73 340.23 423.18 341.7 425.1 342.7 C427.02 343.7 428.98 344.58 430.9 345.4 C432.82 346.22 433.87 346.67 436.6 347.6 C439.33 348.53 443.27 349.98 447.3 351 C451.33 352.02 455.63 352.9 460.8 353.7 C465.97 354.5 475.38 355.45 478.3 355.8" fill="none" stroke="#111" stroke-width="1.1" stroke-linejoin="round" stroke-linecap="round"/>
<path d="M426.2 283.3 L427.9 283.1" fill="none" stroke="#111" stroke-width="1.8" stroke-linejoin="round" stroke-linecap="round"/>
<path d="M427.9 283.1 C428 282.47 428.22 281.67 428.5 279.3 C428.78 276.93 429.22 271.05 429.6 268.9 C429.98 266.75 430.32 266.5 430.8 266.4 C431.28 266.3 431.83 266.82 432.5 268.3 C433.17 269.78 434.03 273.18 434.8 275.3 C435.57 277.42 436.23 279.37 437.1 281 C437.97 282.63 439.13 284.23 440 285.1 C440.87 285.97 440.95 286.02 442.3 286.2 C443.65 286.38 445.98 286.28 448.1 286.2 C450.22 286.12 452.18 285.6 455 285.7 C457.82 285.8 460.83 286.45 465 286.8 C469.17 287.15 475.17 287.53 480 287.8 C484.83 288.07 491.67 288.3 494 288.4" fill="none" stroke="#111" stroke-width="1.1" stroke-linejoin="round" stroke-linecap="round"/>
<text x="319" y="279" font-size="13" font-weight="bold" text-anchor="start" fill="#111">i</text>
<text x="358.9" y="278.9" font-size="13" font-weight="bold" text-anchor="start" fill="#111">ii</text>
<text x="405.6" y="279.9" font-size="13.5" font-weight="bold" text-anchor="start" fill="#111">iii</text>
<text x="441.2" y="279.9" font-size="13.5" font-weight="bold" text-anchor="start" fill="#111">iv</text>
<text x="296.7" y="310.3" font-size="8.4" font-weight="bold" text-anchor="start" fill="#111" textLength="26.2" lengthAdjust="spacingAndGlyphs" style="stroke-width:0.1px">ox-LDL</text>
<text x="305.6" y="319.6" font-size="7" font-weight="bold" text-anchor="start" fill="#111" style="stroke-width:0.1px">+</text>
<text x="301.7" y="329.5" font-size="8.6" font-weight="bold" text-anchor="start" fill="#111" textLength="17.7" lengthAdjust="spacingAndGlyphs" style="stroke-width:0.1px">ADP</text>
<text x="330.8" y="309" font-size="8.8" font-weight="bold" text-anchor="start" fill="#111" textLength="13" lengthAdjust="spacingAndGlyphs" style="stroke-width:0.1px">3.7</text>
<text x="345.6" y="308.6" font-size="5.8" font-weight="bold" text-anchor="start" fill="#111" textLength="13.4" lengthAdjust="spacingAndGlyphs" style="stroke-width:0.1px">nmol</text>
<text x="331" y="319.3" font-size="6" font-weight="bold" text-anchor="start" fill="#111" textLength="35.2" lengthAdjust="spacingAndGlyphs" style="stroke-width:0.1px">MDA/mgLDL</text>
<text x="332.3" y="327.7" font-size="6" font-weight="bold" text-anchor="start" fill="#111" textLength="21" lengthAdjust="spacingAndGlyphs" style="stroke-width:0.1px">protein</text>
<text x="376.2" y="304.2" font-size="8.6" font-weight="bold" text-anchor="start" fill="#111" textLength="12.2" lengthAdjust="spacingAndGlyphs" style="stroke-width:0.1px">5.3</text>
<text x="409.8" y="309" font-size="8.6" font-weight="bold" text-anchor="start" fill="#111" textLength="11.6" lengthAdjust="spacingAndGlyphs" style="stroke-width:0.1px">6.3</text>
<text x="455.4" y="297.6" font-size="8.6" font-weight="bold" text-anchor="start" fill="#111" textLength="11.7" lengthAdjust="spacingAndGlyphs" style="stroke-width:0.1px">7.9</text>
<path d="M335.0 357.2 L335.0 361.9 L344.1 361.9 L344.1 357.6" fill="none" stroke="#111" stroke-width="1.4" stroke-linejoin="round" stroke-linecap="round"/>
<text x="329.2" y="376.5" font-size="10.2" font-weight="bold" text-anchor="start" fill="#111" textLength="26.6" lengthAdjust="spacingAndGlyphs">1 min</text>
</svg>
</body></html>
